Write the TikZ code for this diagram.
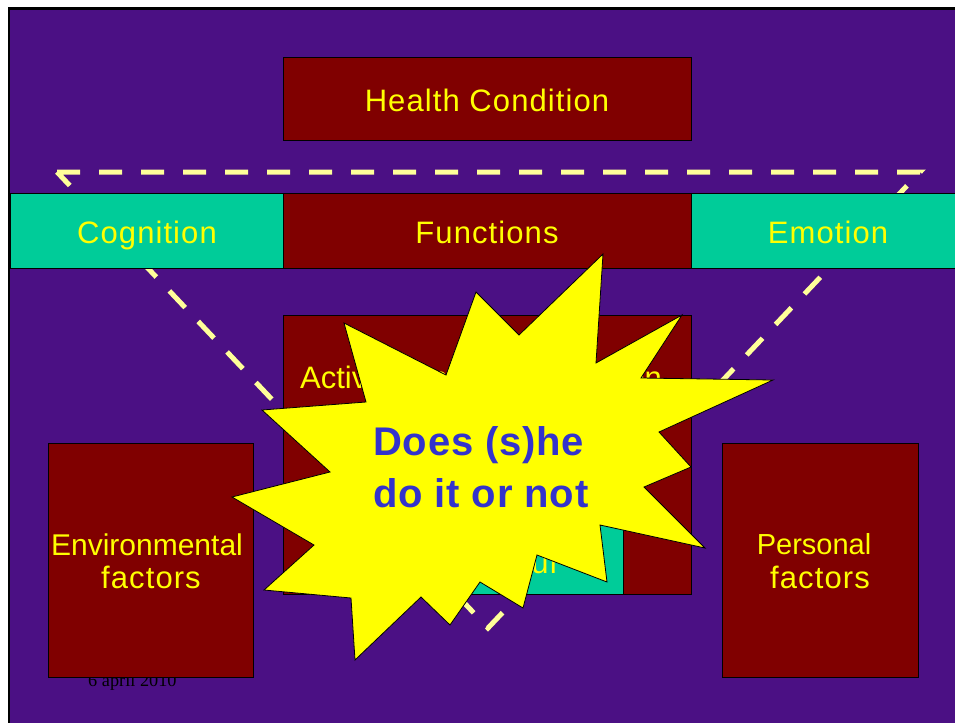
\documentclass[tikz,border=0pt]{standalone}
\usepackage{fontspec}
\setmainfont{Liberation Sans}
\newfontfamily\lblfont{Liberation Sans}[LetterSpace=3.5]
\newfontfamily\qfont{Liberation Sans}[LetterSpace=2]
\newfontfamily\datefont{Liberation Serif}
\definecolor{bgpurple}{RGB}{75,16,132}
\definecolor{boxred}{RGB}{128,0,0}
\definecolor{icfgreen}{RGB}{0,204,153}
\definecolor{dashcol}{RGB}{255,255,153}
\definecolor{txtyellow}{RGB}{255,255,0}
\definecolor{qblue}{RGB}{51,51,204}
\begin{document}
\begin{tikzpicture}[x=1pt,y=-1pt,
  box/.style={draw=black, line width=0.8pt, inner sep=0pt, anchor=north west},
  redbox/.style={box, fill=boxred},
  greenbox/.style={box, fill=icfgreen},
  lbl/.style={text=txtyellow, font=\lblfont\fontsize{31}{34}\selectfont, inner sep=0pt, anchor=base},
  qtext/.style={text=qblue, font=\qfont\bfseries\fontsize{40}{48}\selectfont, inner sep=0pt, anchor=base west}]
\useasboundingbox (0,0) rectangle (955,723);
\fill[white] (0,0) rectangle (955,723);
\fill[black] (8,7) rectangle (955,723);
\fill[bgpurple] (10,10) rectangle (955,723);
% date (partly hidden behind the box)
\node[anchor=base west, inner sep=0pt, font=\datefont\fontsize{18.3}{20}\selectfont] (date) at (88,686) {6 april 2010};
% dashed triangle
\coordinate (tl) at (57,172);
\coordinate (tr) at (920,172);
\coordinate (tb) at (488,628);
\draw[dashcol, line width=5pt, dash pattern=on 23pt off 19pt] (tl) -- (tr) -- (tb) -- cycle;
% boxes
\node[redbox, minimum width=408pt, minimum height=83pt] (hc) at (283,57) {};
\node[greenbox, minimum width=273pt, minimum height=75pt] (cog) at (10,193) {};
\node[redbox, minimum width=408pt, minimum height=75pt] (fun) at (283,193) {};
\node[greenbox, minimum width=266pt, minimum height=75pt] (emo) at (691,193) {};
\node[redbox, minimum width=408pt, minimum height=279pt] (act) at (283,315) {};
\node[greenbox, minimum width=270pt, minimum height=69pt] (beh) at (353,525) {};
\node[redbox, minimum width=205pt, minimum height=234pt] (env) at (48,443) {};
\node[redbox, minimum width=196pt, minimum height=234pt] (per) at (722,443) {};
% labels
\node[lbl] (hcl) at (487,111) {Health Condition};
\node[lbl] (cogl) at (147,243) {Cognition};
\node[lbl] (funl) at (487,243) {Functions};
\node[lbl] (emol) at (828,243) {Emotion};
\node[lbl, anchor=base west, font=\fontsize{31}{34}\selectfont] (actl) at (300,388) {Activities and Participation};
\node[lbl] (behl) at (486,573) {Behaviour};
\node[lbl, font=\fontsize{30}{34}\selectfont] (envl1) at (147,555) {Environmental};
\node[lbl] (envl2) at (151,588) {factors};
\node[lbl, font=\fontsize{29}{34}\selectfont] (perl1) at (814,554) {Personal};
\node[lbl] (perl2) at (820,588) {factors};
% starburst
\fill[txtyellow, draw=black, line width=0.8pt, line join=miter]
  (603,254) -- (596,363) -- (682,315) -- (641,378) -- (773,380) -- (659,432) --
  (691,467) -- (644,487) -- (705,548) -- (600,525) -- (607,582) -- (537,555) --
  (523,608) -- (480,582) -- (450,625) -- (421,597) -- (355,660) -- (351,598) --
  (264,590) -- (314,545) -- (232,497) -- (330,472) -- (262,410) -- (366,402) --
  (344,323) -- (446,375) -- (476,292) -- (519,335) -- cycle;
\node[qtext] (q1) at (373,455) {Does (s)he};
\node[qtext] (q2) at (373,507) {do it or not};
\end{tikzpicture}
\end{document}
